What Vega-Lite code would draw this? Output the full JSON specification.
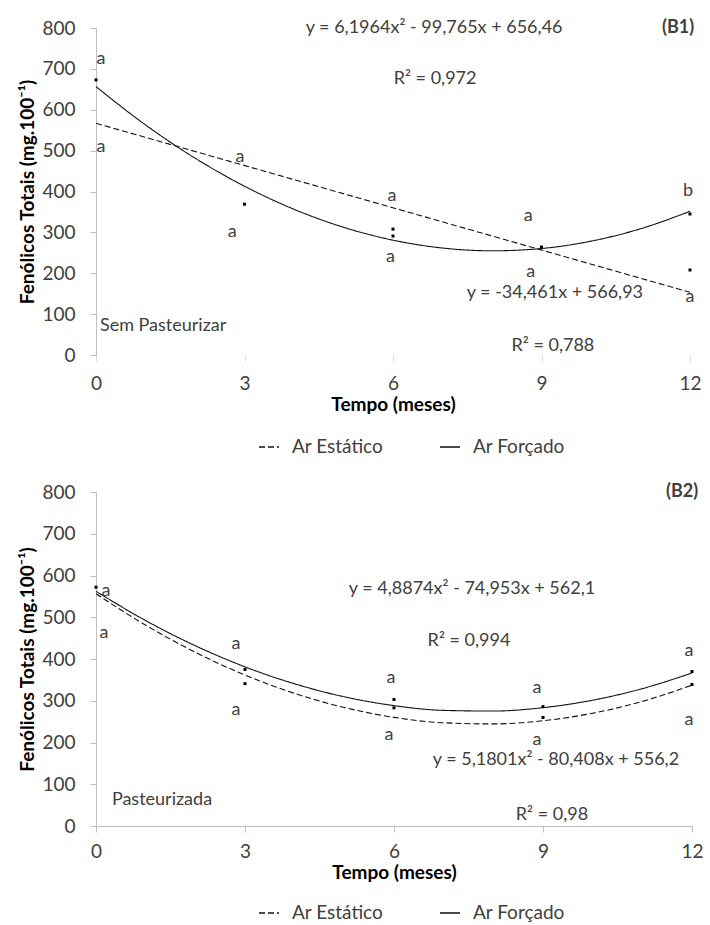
{
  "$schema": "https://vega.github.io/schema/vega-lite/v6.json",
  "background": "white",
  "padding": {"left": 18, "top": 19, "right": 10, "bottom": 0},
  "spacing": 26,
  "config": {
    "font": "Lato",
    "view": {"stroke": null},
    "axis": {
      "grid": false,
      "labelFont": "Lato",
      "labelFontSize": 19,
      "labelColor": "#404040",
      "titleFont": "Lato",
      "titleFontSize": 19,
      "titleFontWeight": "bold",
      "titleColor": "#000000",
      "domainColor": "#bfbfbf",
      "tickColor": "#bfbfbf",
      "tickSize": 6
    },
    "text": {"font": "Lato"}
  },
  "resolve": {
    "scale": {"strokeDash": "independent"},
    "legend": {"strokeDash": "independent"}
  },
  "datasets": {
    "curves": [
      {"panel": "B1", "serie": "Ar Forçado", "tempo": 0, "valor": 656.5},
      {"panel": "B1", "serie": "Ar Forçado", "tempo": 1, "valor": 562.9},
      {"panel": "B1", "serie": "Ar Forçado", "tempo": 2, "valor": 481.7},
      {"panel": "B1", "serie": "Ar Forçado", "tempo": 3, "valor": 412.9},
      {"panel": "B1", "serie": "Ar Forçado", "tempo": 4, "valor": 356.5},
      {"panel": "B1", "serie": "Ar Forçado", "tempo": 5, "valor": 312.5},
      {"panel": "B1", "serie": "Ar Forçado", "tempo": 6, "valor": 280.9},
      {"panel": "B1", "serie": "Ar Forçado", "tempo": 7, "valor": 261.7},
      {"panel": "B1", "serie": "Ar Forçado", "tempo": 8, "valor": 254.9},
      {"panel": "B1", "serie": "Ar Forçado", "tempo": 9, "valor": 260.5},
      {"panel": "B1", "serie": "Ar Forçado", "tempo": 10, "valor": 278.5},
      {"panel": "B1", "serie": "Ar Forçado", "tempo": 11, "valor": 308.8},
      {"panel": "B1", "serie": "Ar Forçado", "tempo": 12, "valor": 351.6},
      {"panel": "B1", "serie": "Ar Estático", "tempo": 0, "valor": 566.9},
      {"panel": "B1", "serie": "Ar Estático", "tempo": 12, "valor": 153.4},
      {"panel": "B2", "serie": "Ar Forçado", "tempo": 0, "valor": 562.1},
      {"panel": "B2", "serie": "Ar Forçado", "tempo": 1, "valor": 492.0},
      {"panel": "B2", "serie": "Ar Forçado", "tempo": 2, "valor": 431.7},
      {"panel": "B2", "serie": "Ar Forçado", "tempo": 3, "valor": 381.2},
      {"panel": "B2", "serie": "Ar Forçado", "tempo": 4, "valor": 340.5},
      {"panel": "B2", "serie": "Ar Forçado", "tempo": 5, "valor": 309.5},
      {"panel": "B2", "serie": "Ar Forçado", "tempo": 6, "valor": 288.3},
      {"panel": "B2", "serie": "Ar Forçado", "tempo": 7, "valor": 276.9},
      {"panel": "B2", "serie": "Ar Forçado", "tempo": 8, "valor": 275.3},
      {"panel": "B2", "serie": "Ar Forçado", "tempo": 9, "valor": 283.4},
      {"panel": "B2", "serie": "Ar Forçado", "tempo": 10, "valor": 301.3},
      {"panel": "B2", "serie": "Ar Forçado", "tempo": 11, "valor": 329.0},
      {"panel": "B2", "serie": "Ar Forçado", "tempo": 12, "valor": 366.5},
      {"panel": "B2", "serie": "Ar Estático", "tempo": 0, "valor": 556.2},
      {"panel": "B2", "serie": "Ar Estático", "tempo": 1, "valor": 481.0},
      {"panel": "B2", "serie": "Ar Estático", "tempo": 2, "valor": 416.1},
      {"panel": "B2", "serie": "Ar Estático", "tempo": 3, "valor": 361.6},
      {"panel": "B2", "serie": "Ar Estático", "tempo": 4, "valor": 317.5},
      {"panel": "B2", "serie": "Ar Estático", "tempo": 5, "valor": 283.7},
      {"panel": "B2", "serie": "Ar Estático", "tempo": 6, "valor": 260.2},
      {"panel": "B2", "serie": "Ar Estático", "tempo": 7, "valor": 247.2},
      {"panel": "B2", "serie": "Ar Estático", "tempo": 8, "valor": 244.5},
      {"panel": "B2", "serie": "Ar Estático", "tempo": 9, "valor": 252.1},
      {"panel": "B2", "serie": "Ar Estático", "tempo": 10, "valor": 270.1},
      {"panel": "B2", "serie": "Ar Estático", "tempo": 11, "valor": 298.5},
      {"panel": "B2", "serie": "Ar Estático", "tempo": 12, "valor": 337.2}
    ],
    "points": [
      {"panel": "B1", "serie": "Ar Forçado", "tempo": 0, "valor": 673},
      {"panel": "B1", "serie": "Ar Estático", "tempo": 3, "valor": 369},
      {"panel": "B1", "serie": "Ar Estático", "tempo": 6, "valor": 308},
      {"panel": "B1", "serie": "Ar Forçado", "tempo": 6, "valor": 291},
      {"panel": "B1", "serie": "Ar Forçado", "tempo": 9, "valor": 264},
      {"panel": "B1", "serie": "Ar Forçado", "tempo": 12, "valor": 345},
      {"panel": "B1", "serie": "Ar Estático", "tempo": 12, "valor": 208},
      {"panel": "B2", "serie": "Ar Forçado", "tempo": 0, "valor": 572},
      {"panel": "B2", "serie": "Ar Forçado", "tempo": 3, "valor": 375},
      {"panel": "B2", "serie": "Ar Estático", "tempo": 3, "valor": 341},
      {"panel": "B2", "serie": "Ar Forçado", "tempo": 6, "valor": 303},
      {"panel": "B2", "serie": "Ar Estático", "tempo": 6, "valor": 283},
      {"panel": "B2", "serie": "Ar Forçado", "tempo": 9, "valor": 286},
      {"panel": "B2", "serie": "Ar Estático", "tempo": 9, "valor": 260},
      {"panel": "B2", "serie": "Ar Forçado", "tempo": 12, "valor": 370},
      {"panel": "B2", "serie": "Ar Estático", "tempo": 12, "valor": 339}
    ],
    "letters": [
      {"panel": "B1", "tempo": 0.1, "valor": 724, "texto": "a"},
      {"panel": "B1", "tempo": 0.1, "valor": 509, "texto": "a"},
      {"panel": "B1", "tempo": 2.91, "valor": 484, "texto": "a"},
      {"panel": "B1", "tempo": 2.75, "valor": 301, "texto": "a"},
      {"panel": "B1", "tempo": 5.98, "valor": 389, "texto": "a"},
      {"panel": "B1", "tempo": 5.95, "valor": 240, "texto": "a"},
      {"panel": "B1", "tempo": 8.73, "valor": 340, "texto": "a"},
      {"panel": "B1", "tempo": 8.78, "valor": 203, "texto": "a"},
      {"panel": "B1", "tempo": 11.96, "valor": 401, "texto": "b"},
      {"panel": "B1", "tempo": 12.0, "valor": 142, "texto": "a"},
      {"panel": "B2", "tempo": 0.2, "valor": 564, "texto": "a"},
      {"panel": "B2", "tempo": 0.16, "valor": 463, "texto": "a"},
      {"panel": "B2", "tempo": 2.82, "valor": 435, "texto": "a"},
      {"panel": "B2", "tempo": 2.82, "valor": 279, "texto": "a"},
      {"panel": "B2", "tempo": 5.94, "valor": 355, "texto": "a"},
      {"panel": "B2", "tempo": 5.9, "valor": 219, "texto": "a"},
      {"panel": "B2", "tempo": 8.88, "valor": 331, "texto": "a"},
      {"panel": "B2", "tempo": 8.88, "valor": 207, "texto": "a"},
      {"panel": "B2", "tempo": 11.94, "valor": 418, "texto": "a"},
      {"panel": "B2", "tempo": 11.94, "valor": 255, "texto": "a"}
    ],
    "equations": [
      {"panel": "B1", "tempo": 6.83, "valor": 800, "texto": "y = 6,1964x² - 99,765x + 656,46"},
      {"panel": "B1", "tempo": 6.85, "valor": 675, "texto": "R² = 0,972"},
      {"panel": "B1", "tempo": 9.27, "valor": 152, "texto": "y = -34,461x + 566,93"},
      {"panel": "B1", "tempo": 9.23, "valor": 22, "texto": "R² = 0,788"},
      {"panel": "B2", "tempo": 7.57, "valor": 567, "texto": "y = 4,8874x² - 74,953x + 562,1"},
      {"panel": "B2", "tempo": 7.51, "valor": 442, "texto": "R² = 0,994"},
      {"panel": "B2", "tempo": 9.26, "valor": 157, "texto": "y = 5,1801x² - 80,408x + 556,2"},
      {"panel": "B2", "tempo": 9.18, "valor": 26, "texto": "R² = 0,98"}
    ],
    "notes": [
      {"panel": "B1", "tempo": 0.08, "valor": 71, "texto": "Sem Pasteurizar"},
      {"panel": "B2", "tempo": 0.32, "valor": 62, "texto": "Pasteurizada"}
    ],
    "tags": [
      {"panel": "B1", "tempo": 11.76, "valor": 800, "texto": "(B1)"},
      {"panel": "B2", "tempo": 11.8, "valor": 800, "texto": "(B2)"}
    ]
  },
  "vconcat": [
    {
      "width": 594,
      "height": 327,
      "layer": [
        {
          "data": {"name": "curves"},
          "transform": [{"filter": "datum.panel === 'B1'"}],
          "mark": {"type": "line", "interpolate": "monotone", "color": "#111111", "strokeWidth": 1.1},
          "encoding": {
            "x": {"field": "tempo", "type": "quantitative", "scale": {"domain": [0, 12], "nice": false},
              "axis": {"title": "Tempo (meses)", "values": [0, 3, 6, 9, 12], "domain": false, "tickColor": "#d9d9d9", "labelPadding": 13, "titlePadding": 2, "labelFlush": false}},
            "y": {"field": "valor", "type": "quantitative", "scale": {"domain": [0, 800], "nice": false},
              "axis": {"title": "Fenólicos Totais (mg.100⁻¹)", "values": [0, 100, 200, 300, 400, 500, 600, 700, 800], "labelPadding": 15, "titlePadding": 4}},
            "strokeDash": {
              "field": "serie",
              "type": "nominal",
              "scale": {"domain": ["Ar Estático", "Ar Forçado"], "range": [[6, 3], [1, 0]]},
              "legend": {
                "orient": "none", "legendX": 162, "legendY": 408, "direction": "horizontal", "title": null, "padding": 0,
                "symbolSize": 400, "labelOffset": 12, "columnPadding": 53,
                "labelFont": "Lato", "labelFontSize": 19, "labelColor": "#404040",
                "encode": {
                  "symbols": {
                    "shape": {"value": {"expr": "datum.value === 'Ar Estático' ? 'M-4.3,-0.07H-3.8V0.07H-4.3Z M-3.1,-0.07H-2.3V0.07H-3.1Z M-1.6,-0.07H1.0V0.07H-1.6Z M-1.25,0L-1.297,0.175L-1.425,0.303L-1.6,0.35L-1.775,0.303L-1.903,0.175L-1.95,0L-1.903,-0.175L-1.775,-0.303L-1.6,-0.35L-1.425,-0.303L-1.297,-0.175Z' : 'M-5.8,-0.07H0.2V0.07H-5.8Z M-2.65,-0.25H-2.15V0.25H-2.65Z'"}},
                    "fill": {"value": "#000000"},
                    "fillOpacity": {"value": 1},
                    "opacity": {"value": 1},
                    "strokeWidth": {"value": 0},
                    "strokeDash": {"value": [1, 0]}
                  }
                }
              }
            },
            "detail": {"field": "serie", "type": "nominal"}
          }
        },
        {
          "data": {"name": "points"},
          "transform": [{"filter": "datum.panel === 'B1'"}],
          "mark": {"type": "point", "shape": "square", "filled": true, "size": 9, "color": "#000000", "opacity": 1},
          "encoding": {
            "x": {"field": "tempo", "type": "quantitative"},
            "y": {"field": "valor", "type": "quantitative"}
          }
        },
        {
          "data": {"name": "letters"},
          "transform": [{"filter": "datum.panel === 'B1'"}],
          "mark": {"type": "text", "fontSize": 18, "color": "#404040"},
          "encoding": {
            "x": {"field": "tempo", "type": "quantitative"},
            "y": {"field": "valor", "type": "quantitative"},
            "text": {"field": "texto"}
          }
        },
        {
          "data": {"name": "equations"},
          "transform": [{"filter": "datum.panel === 'B1'"}],
          "mark": {"type": "text", "fontSize": 18, "color": "#404040"},
          "encoding": {
            "x": {"field": "tempo", "type": "quantitative"},
            "y": {"field": "valor", "type": "quantitative"},
            "text": {"field": "texto"}
          }
        },
        {
          "data": {"name": "notes"},
          "transform": [{"filter": "datum.panel === 'B1'"}],
          "mark": {"type": "text", "fontSize": 18, "color": "#404040", "align": "left"},
          "encoding": {
            "x": {"field": "tempo", "type": "quantitative"},
            "y": {"field": "valor", "type": "quantitative"},
            "text": {"field": "texto"}
          }
        },
        {
          "data": {"name": "tags"},
          "transform": [{"filter": "datum.panel === 'B1'"}],
          "mark": {"type": "text", "fontSize": 18, "fontWeight": "bold", "color": "#404040"},
          "encoding": {
            "x": {"field": "tempo", "type": "quantitative"},
            "y": {"field": "valor", "type": "quantitative"},
            "text": {"field": "texto"}
          }
        }
      ]
    },
    {
      "width": 596,
      "height": 334,
      "layer": [
        {
          "data": {"name": "curves"},
          "transform": [{"filter": "datum.panel === 'B2'"}],
          "mark": {"type": "line", "interpolate": "monotone", "color": "#111111", "strokeWidth": 1.1},
          "encoding": {
            "x": {"field": "tempo", "type": "quantitative", "scale": {"domain": [0, 12], "nice": false},
              "axis": {"title": "Tempo (meses)", "values": [0, 3, 6, 9, 12], "labelPadding": 10, "titlePadding": 2, "labelFlush": false}},
            "y": {"field": "valor", "type": "quantitative", "scale": {"domain": [0, 800], "nice": false},
              "axis": {"title": "Fenólicos Totais (mg.100⁻¹)", "values": [0, 100, 200, 300, 400, 500, 600, 700, 800], "labelPadding": 15, "titlePadding": 4}},
            "strokeDash": {
              "field": "serie",
              "type": "nominal",
              "scale": {"domain": ["Ar Estático", "Ar Forçado"], "range": [[6, 3], [1, 0]]},
              "legend": {
                "orient": "none", "legendX": 162, "legendY": 410, "direction": "horizontal", "title": null, "padding": 0,
                "symbolSize": 400, "labelOffset": 12, "columnPadding": 53,
                "labelFont": "Lato", "labelFontSize": 19, "labelColor": "#404040",
                "encode": {
                  "symbols": {
                    "shape": {"value": {"expr": "datum.value === 'Ar Estático' ? 'M-4.3,-0.07H-3.8V0.07H-4.3Z M-3.1,-0.07H-2.3V0.07H-3.1Z M-1.6,-0.07H1.0V0.07H-1.6Z M-1.25,0L-1.297,0.175L-1.425,0.303L-1.6,0.35L-1.775,0.303L-1.903,0.175L-1.95,0L-1.903,-0.175L-1.775,-0.303L-1.6,-0.35L-1.425,-0.303L-1.297,-0.175Z' : 'M-5.8,-0.07H0.2V0.07H-5.8Z M-2.65,-0.25H-2.15V0.25H-2.65Z'"}},
                    "fill": {"value": "#000000"},
                    "fillOpacity": {"value": 1},
                    "opacity": {"value": 1},
                    "strokeWidth": {"value": 0},
                    "strokeDash": {"value": [1, 0]}
                  }
                }
              }
            },
            "detail": {"field": "serie", "type": "nominal"}
          }
        },
        {
          "data": {"name": "points"},
          "transform": [{"filter": "datum.panel === 'B2'"}],
          "mark": {"type": "point", "shape": "square", "filled": true, "size": 9, "color": "#000000", "opacity": 1},
          "encoding": {
            "x": {"field": "tempo", "type": "quantitative"},
            "y": {"field": "valor", "type": "quantitative"}
          }
        },
        {
          "data": {"name": "letters"},
          "transform": [{"filter": "datum.panel === 'B2'"}],
          "mark": {"type": "text", "fontSize": 18, "color": "#404040"},
          "encoding": {
            "x": {"field": "tempo", "type": "quantitative"},
            "y": {"field": "valor", "type": "quantitative"},
            "text": {"field": "texto"}
          }
        },
        {
          "data": {"name": "equations"},
          "transform": [{"filter": "datum.panel === 'B2'"}],
          "mark": {"type": "text", "fontSize": 18, "color": "#404040"},
          "encoding": {
            "x": {"field": "tempo", "type": "quantitative"},
            "y": {"field": "valor", "type": "quantitative"},
            "text": {"field": "texto"}
          }
        },
        {
          "data": {"name": "notes"},
          "transform": [{"filter": "datum.panel === 'B2'"}],
          "mark": {"type": "text", "fontSize": 18, "color": "#404040", "align": "left"},
          "encoding": {
            "x": {"field": "tempo", "type": "quantitative"},
            "y": {"field": "valor", "type": "quantitative"},
            "text": {"field": "texto"}
          }
        },
        {
          "data": {"name": "tags"},
          "transform": [{"filter": "datum.panel === 'B2'"}],
          "mark": {"type": "text", "fontSize": 18, "fontWeight": "bold", "color": "#404040"},
          "encoding": {
            "x": {"field": "tempo", "type": "quantitative"},
            "y": {"field": "valor", "type": "quantitative"},
            "text": {"field": "texto"}
          }
        }
      ]
    }
  ]
}
